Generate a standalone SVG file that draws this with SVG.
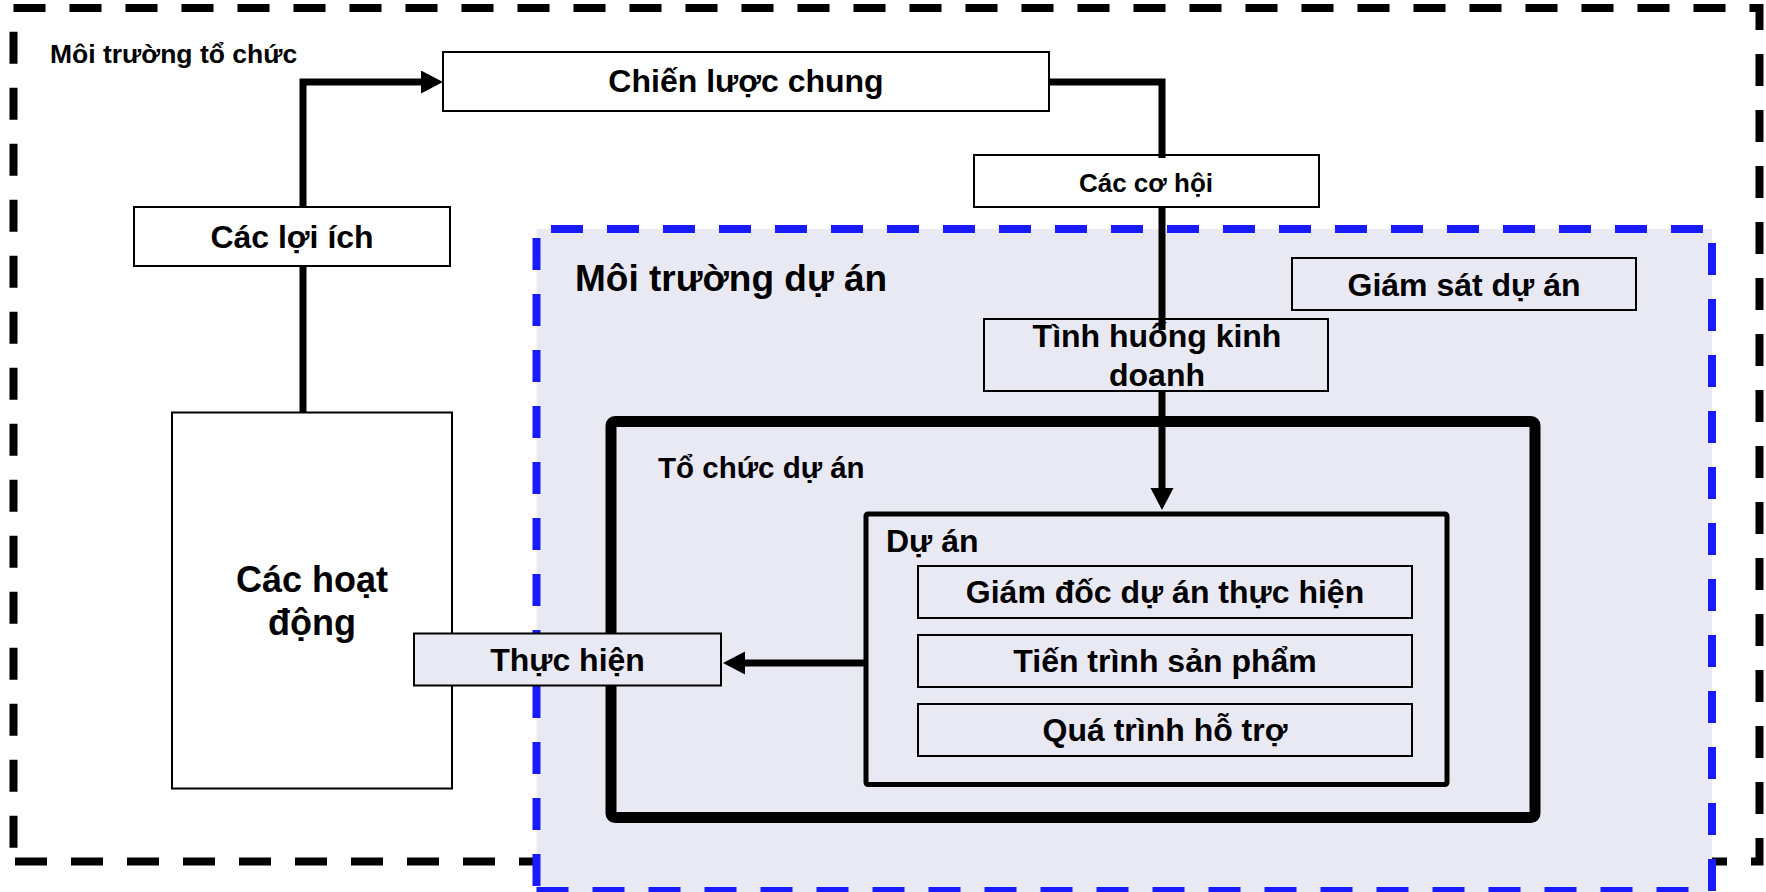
<svg xmlns="http://www.w3.org/2000/svg" width="1766" height="892" viewBox="0 0 1766 892">
<style>
.t{font-family:"Liberation Sans",Arial,sans-serif;font-weight:bold;fill:#000}
.c{text-anchor:middle}
.box{stroke:#000;stroke-width:2}
.w{fill:#fff}
.l{fill:#E9E9F3}
.bd{stroke:#000;stroke-width:8;fill:none;stroke-dasharray:32 24}
.bl{stroke:#1A1AFF;stroke-width:8;fill:none;stroke-dasharray:32 24}
.cn{stroke:#000;stroke-width:7;fill:none;stroke-linejoin:miter}
</style>
<defs>
<marker id="ah" markerUnits="userSpaceOnUse" markerWidth="24" markerHeight="24" refX="12" refY="11.5" orient="auto">
<path d="M0,0 L22,11.5 L0,23 z" fill="#000"/>
</marker>
</defs>
<rect width="1766" height="892" fill="#fff"/>

<g id="org-env">
<path class="bd" d="M13.5,8 H1759.5 V861.5 H13.5"/>
<path class="bd" d="M13.5,8 V861.5" stroke-dashoffset="32.3"/>
<text class="t" x="50" y="63" font-size="26.5">Môi trường tổ chức</text>
</g>

<g id="project-env">
<rect x="536.5" y="229" width="1175.5" height="670" fill="#E9E9F3"/>
<line class="bl" x1="536.5" y1="229" x2="1712" y2="229" stroke-dashoffset="41.5"/>
<line class="bl" x1="536.5" y1="229" x2="536.5" y2="891" stroke-dashoffset="47"/>
<line class="bl" x1="1712" y1="229" x2="1712" y2="891" stroke-dashoffset="42"/>
<line class="bl" x1="536.5" y1="891" x2="1712" y2="891"/>
<text class="t" x="575" y="291" font-size="37">Môi trường dự án</text>
</g>

<g id="project-org">
<rect x="611" y="421.5" width="924" height="396" rx="4" fill="#E9E9F3" stroke="#000" stroke-width="11"/>
<text class="t" x="658" y="478" font-size="29.5">Tổ chức dự án</text>
</g>

<g id="project">
<rect x="866" y="514" width="581" height="270.5" rx="2" fill="#E9E9F3" stroke="#000" stroke-width="5"/>
<text class="t" x="886" y="552" font-size="32">Dự án</text>
</g>

<g id="strategy">
<rect class="box w" x="443" y="52" width="606" height="59"/>
<text class="t c" x="746" y="92" font-size="32">Chiến lược chung</text>
</g>

<g id="benefits">
<rect class="box w" x="134" y="207" width="316" height="59"/>
<text class="t c" x="292" y="248" font-size="32">Các lợi ích</text>
</g>

<g id="opportunities">
<rect class="box w" x="974" y="155" width="345" height="52"/>
<text class="t c" x="1146" y="192" font-size="26">Các cơ hội</text>
</g>

<g id="supervision">
<rect class="box l" x="1292" y="258" width="344" height="52"/>
<text class="t c" x="1464" y="296" font-size="32">Giám sát dự án</text>
</g>

<g id="business-case">
<rect class="box l" x="984" y="319" width="344" height="72"/>
<text class="t c" x="1157" y="347" font-size="32">Tình huống kinh</text>
<text class="t c" x="1157" y="386" font-size="32">doanh</text>
</g>

<g id="operations">
<rect class="box w" x="172" y="412.5" width="280" height="376"/>
<text class="t c" x="312" y="592" font-size="36">Các hoạt</text>
<text class="t c" x="312" y="635" font-size="36">động</text>
</g>

<g id="delivery">
<rect class="box l" x="414" y="633.5" width="307" height="52"/>
<text class="t c" x="567.5" y="671" font-size="32">Thực hiện</text>
</g>

<g id="pm-delivery">
<rect class="box l" x="918" y="566" width="494" height="52"/>
<text class="t c" x="1165" y="603" font-size="32">Giám đốc dự án thực hiện</text>
</g>

<g id="product-process">
<rect class="box l" x="918" y="635" width="494" height="52"/>
<text class="t c" x="1165" y="672" font-size="32">Tiến trình sản phẩm</text>
</g>

<g id="support-process">
<rect class="box l" x="918" y="704" width="494" height="52"/>
<text class="t c" x="1165" y="741" font-size="32">Quá trình hỗ trợ</text>
</g>

<g id="connectors">
<path class="cn" d="M303,412.5 V266"/>
<path class="cn" d="M303,207 V82 H433" marker-end="url(#ah)"/>
<path class="cn" d="M1049,82 H1162 V158"/>
<path class="cn" d="M1162,207 V330"/>
<path class="cn" d="M1162,391 V500" marker-end="url(#ah)"/>
<path class="cn" d="M866,663 H733" marker-end="url(#ah)"/>
</g>
</svg>
